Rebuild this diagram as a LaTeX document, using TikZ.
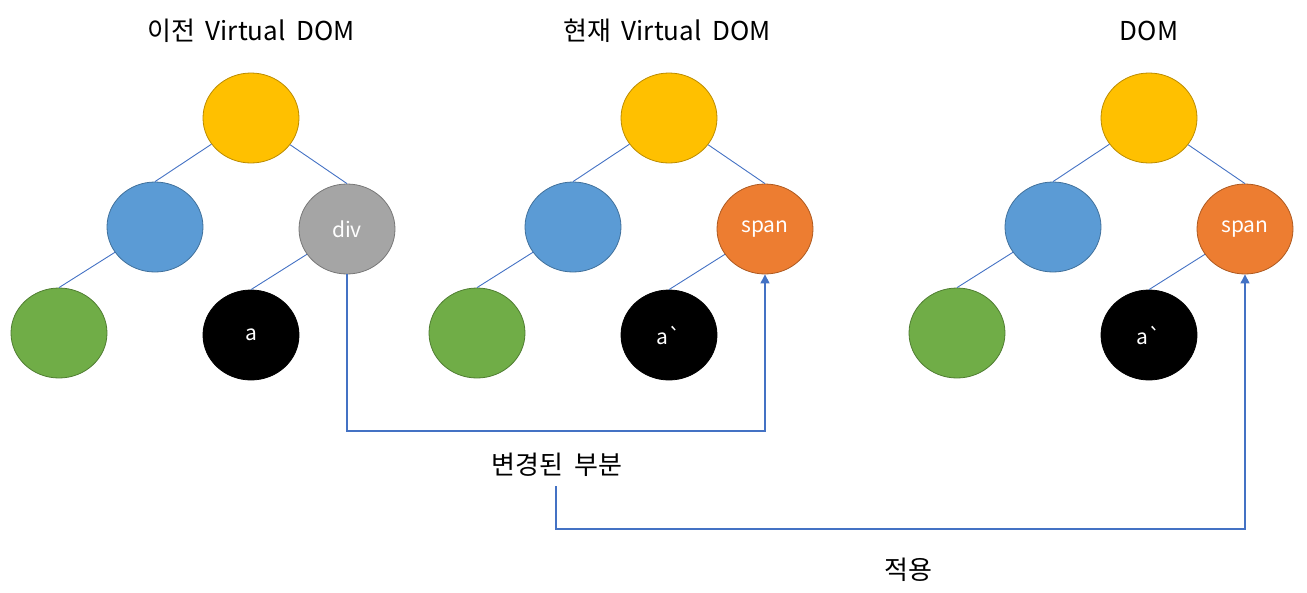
\documentclass[tikz,border=0pt]{standalone}
\usepackage{fontspec}
\setmainfont{Noto Sans CJK KR}
\newfontfamily\rawfont{Noto Sans CJK KR}
\usetikzlibrary{arrows.meta,shapes.geometric}
\definecolor{cyellow}{HTML}{FFC000}\definecolor{cyellowd}{HTML}{BC8C00}
\definecolor{cblue}{HTML}{5B9BD5}\definecolor{cblued}{HTML}{41719C}
\definecolor{cgray}{HTML}{A5A5A5}\definecolor{cgrayd}{HTML}{787878}
\definecolor{corange}{HTML}{ED7D31}\definecolor{coranged}{HTML}{AE5A21}
\definecolor{cgreen}{HTML}{70AD47}\definecolor{cgreend}{HTML}{507E32}
\definecolor{cline}{HTML}{4472C4}
\newcommand{\wsp}{\hspace{0.42em}}
\begin{document}
\begin{tikzpicture}[x=1pt,y=-1pt,
  el/.style={ellipse, minimum width=96pt, minimum height=90pt, inner sep=0pt, line width=0.8pt, text=white, font=\rawfont\fontsize{21}{24}\selectfont},
  ylw/.style={el, fill=cyellow, draw=cyellowd},
  blu/.style={el, fill=cblue, draw=cblued},
  gry/.style={el, fill=cgray, draw=cgrayd},
  org/.style={el, fill=corange, draw=coranged},
  grn/.style={el, fill=cgreen, draw=cgreend},
  blk/.style={el, fill=black, draw=black},
  edge/.style={draw=cline, line width=0.9pt},
  conn/.style={draw=cline, line width=1.1pt, -{Triangle[width=9pt,length=9pt]}},
  ttl/.style={font=\fontsize{26}{30}\selectfont, inner sep=0pt}]
\useasboundingbox (0,0) rectangle (1307,592);
% titles
\node[ttl] (t1) at (251,31) {이전\wsp Virtual\wsp DOM};
\node[ttl] (t2) at (667,31) {현재\wsp Virtual\wsp DOM};
\node[ttl] (t3) at (1149,31) {DOM};
% tree 1
\node[ylw] (r1) at (251,118) {};
\node[blu] (b1) at (155,227) {};
\node[gry] (d1) at (347,229) {div};
\node[grn] (g1) at (59,333) {};
\node[blk] (a1) at (251,335) {a};
% tree 2
\node[ylw] (r2) at (669,118) {};
\node[blu] (b2) at (573,227) {};
\node[org] (s2) at (765,229) {span};
\node[grn] (g2) at (477,333) {};
\node[blk] (a2) at (669,335) {a`};
% tree 3
\node[ylw] (r3) at (1149,118) {};
\node[blu] (b3) at (1053,227) {};
\node[org] (s3) at (1245,229) {span};
\node[grn] (g3) at (957,333) {};
\node[blk] (a3) at (1149,335) {a`};
% edges
\foreach \i in {1,2,3}{
  \draw[edge] (r\i) -- (b\i.north);
  \draw[edge] (b\i) -- (g\i.north);
}
\draw[edge] (r1) -- (d1.north);
\draw[edge] (d1) -- (a1.north);
\draw[edge] (r2) -- (s2.north);
\draw[edge] (s2) -- (a2.north);
\draw[edge] (r3) -- (s3.north);
\draw[edge] (s3) -- (a3.north);
% labels
\node[ttl] (chg) at (557,465) {변경된\wsp 부분};
\node[ttl] (app) at (908,570) {적용};
\coordinate (c0) at (556,486);
% connectors
\draw[conn] (d1.south) |- (555,431) -| (s2.south);
\draw[conn] (c0) |- (1245,529) -- (s3.south);
\end{tikzpicture}
\end{document}
